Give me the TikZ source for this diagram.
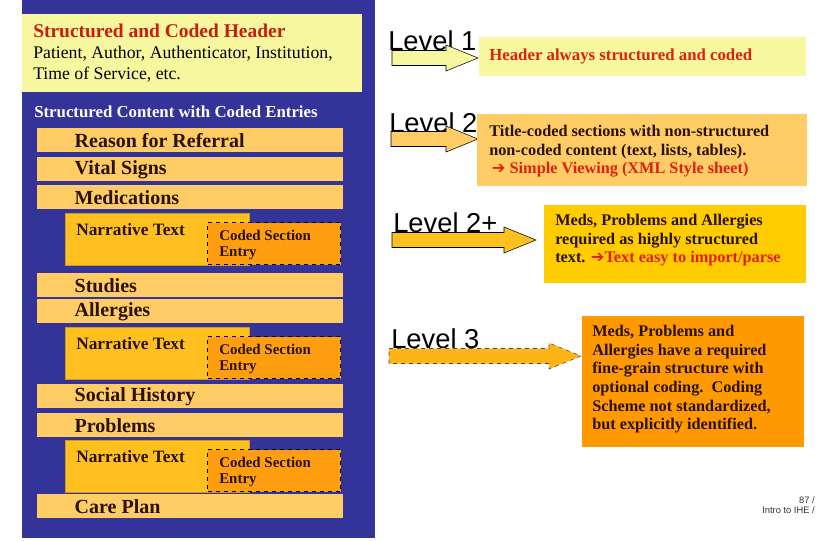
\documentclass[tikz,border=0pt]{standalone}
\usepackage{fontspec}
\setmainfont{Liberation Serif}
\setsansfont{Liberation Sans}
\definecolor{panelblue}{HTML}{333399}
\definecolor{paleyellow}{HTML}{F7F7A0}
\definecolor{sectionorange}{HTML}{FFCC66}
\definecolor{narrgold}{HTML}{FFC020}
\definecolor{codedorange}{HTML}{FF9E10}
\definecolor{goldbox}{HTML}{FFCC00}
\definecolor{deeporange}{HTML}{FF9900}
\definecolor{darktext}{HTML}{2A1200}
\definecolor{alertred}{HTML}{E02010}
\tikzset{
  section/.style={fill=sectionorange, anchor=north west, minimum width=229.5pt, minimum height=18pt, inner sep=0pt},
  sectext/.style={anchor=west, font=\fontsize{15}{17}\selectfont\bfseries, text=darktext},
  narrbox/.style={fill=narrgold, draw=narrgold!80!black, anchor=north west, minimum width=138pt, minimum height=39pt, inner sep=0pt},
  codedbox/.style={fill=codedorange, draw=black, dashed, thick, anchor=north west, minimum width=100pt, minimum height=31.5pt, inner sep=0pt},
  smalltext/.style={anchor=north west, align=left, font=\fontsize{11.2}{11}\selectfont\bfseries, text=darktext, inner sep=0pt},
  leveltext/.style={anchor=west, font=\sffamily\fontsize{20.5}{20.5}\selectfont, inner sep=0pt},
  infobox/.style={anchor=north west, align=left, inner sep=0pt, font=\fontsize{12.2}{14}\selectfont\bfseries, text=darktext}
}
\newcommand{\levelarrow}[5]{% x0, x1, yc, fill, extra
  \draw[#4, #5] (#1,#3-7.5) -- (#2-32,#3-7.5) -- (#2-32,#3-13) -- (#2,#3) -- (#2-32,#3+13) -- (#2-32,#3+7.5) -- (#1,#3+7.5) -- cycle;}
\begin{document}
\begin{tikzpicture}[x=0.75pt, y=-0.75pt]
  \useasboundingbox (0,0) rectangle (825,540);
  \fill[white] (0,0) rectangle (825,540);

  % left panel
  \fill[panelblue] (22,0) rectangle (375,538);
  \node[fill=paleyellow, anchor=north west, minimum width=255pt, minimum height=58.5pt] (header) at (22,14) {};
  \node[anchor=north west, align=left, inner sep=0pt, font=\fontsize{13.3}{15.8}\selectfont] (headtext) at (33,24)
    {\textcolor{alertred!90!black}{\bfseries\fontsize{14.6}{15.8}\selectfont Structured and Coded Header}\\
     Patient, Author, Authenticator, Institution,\\Time of Service, etc.};
  \node[anchor=west, inner sep=0pt, text=white, font=\fontsize{12.6}{13}\selectfont\bfseries] (content) at (34,112)
    {Structured Content with Coded Entries};

  % sections
  \foreach \name/\y/\label in {reason/128/Reason for Referral, vital/157/Vital Signs, meds/185/Medications,
      studies/273/Studies, allergies/299/Allergies, social/384/Social History, problems/413/Problems, care/494/Care Plan}{
    \node[section] (\name) at (37,\y) {};
    \node[sectext] at (70,\y+13) {\label};
  }

  % narrative and coded entries
  \foreach \name/\y in {medsnarr/213, allnarr/327, probnarr/440}{
    \node[narrbox] (\name) at (65,\y) {};
    \node[smalltext, font=\fontsize{13}{13}\selectfont\bfseries] at (76,\y+10) {Narrative Text};
    \node[codedbox] (\name coded) at (207,\y+9) {};
    \node[smalltext] at (219,\y+17) {Coded Section\\[1pt]Entry};
  }

  % levels
  \node[leveltext] (lvlone) at (388,41) {Level 1};
  \levelarrow{392}{478}{58}{fill=paleyellow}{draw=black}
  \node[fill=paleyellow, anchor=north west, minimum width=245pt, minimum height=29pt] (boxone) at (479,37) {};
  \node[infobox, text=alertred, font=\fontsize{12.6}{14}\selectfont\bfseries] at (489,49) {Header always structured and coded};

  \node[leveltext] (lvltwo) at (389,123) {Level 2};
  \levelarrow{391}{478}{139}{fill=sectionorange}{draw=black}
  \node[fill=sectionorange, anchor=north west, minimum width=247pt, minimum height=54pt] (boxtwo) at (477,114) {};
  \node[infobox] at (489,125) {Title-coded sections with non-structured\\non-coded content (text, lists, tables).\\
    \textcolor{alertred}{\,{\fontspec{DejaVu Sans}\bfseries ➔} Simple Viewing (XML Style sheet)}};

  \node[leveltext] (lvltwoplus) at (393,223) {Level 2+};
  \levelarrow{392}{536}{240}{fill=narrgold}{draw=black}
  \node[fill=goldbox, anchor=north west, minimum width=196.5pt, minimum height=58pt] (boxthree) at (544,205) {};
  \node[infobox] at (555,214) {Meds, Problems and Allergies\\required as highly structured\\
    text. \textcolor{alertred}{{\fontspec{DejaVu Sans}\bfseries ➔}Text easy to import/parse}};

  \node[leveltext] (lvlthree) at (391,339) {Level 3};
  \levelarrow{389}{581}{356}{fill=narrgold!70!deeporange}{draw=black!70, dashed}
  \node[fill=deeporange, anchor=north west, minimum width=166.5pt, minimum height=98pt] (boxfour) at (582,316) {};
  \node[infobox] at (592,325) {Meds, Problems and\\Allergies have a required\\fine-grain structure with\\
    optional coding.\ \ Coding\\Scheme not standardized,\\but explicitly identified.};

  % footer
  \node[anchor=north east, align=right, inner sep=0pt, font=\sffamily\fontsize{7}{8}\selectfont, text=black!80] (footer) at (815,496)
    {87 /\\Intro to IHE /};
\end{tikzpicture}
\end{document}
